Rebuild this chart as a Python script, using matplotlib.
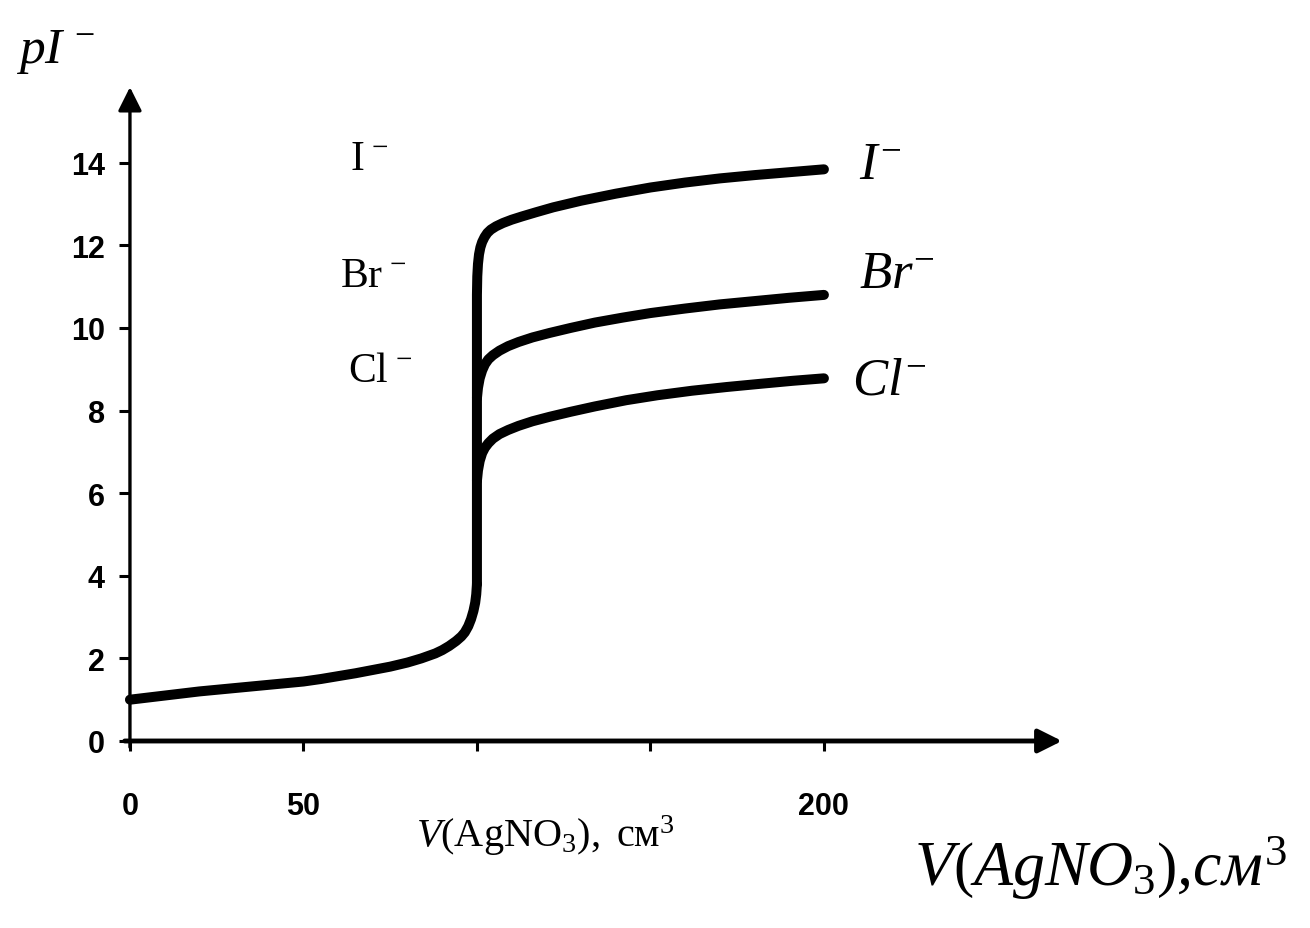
import matplotlib
matplotlib.use('Agg')
import matplotlib.pyplot as plt

# общая ветвь кривой титрования (до точки эквивалентности)
common_x = [0, 5, 10, 15, 20, 25, 30, 35, 40, 45, 50, 55, 60, 65, 70, 75, 80, 84, 88,
            90, 92, 94, 95.5, 96.5, 97.5, 98.3, 99, 99.5, 99.8, 100]
common_y = [1.0, 1.05, 1.1, 1.15, 1.2, 1.24, 1.28, 1.32, 1.36, 1.4, 1.44, 1.5, 1.57, 1.64,
            1.72, 1.8, 1.9, 2.0, 2.12, 2.2, 2.3, 2.42, 2.53, 2.63, 2.78, 2.95, 3.15, 3.35, 3.55, 3.8]

# ветви после точки эквивалентности
i_x = [100, 100, 100.1, 100.3, 100.6, 101, 101.5, 102.2, 103, 104, 105.5, 107.5, 110, 113,
       117, 122, 130, 140, 150, 160, 170, 180, 190, 200]
i_y = [3.8, 10.8, 11.25, 11.55, 11.78, 11.95, 12.08, 12.2, 12.3, 12.38, 12.46, 12.54, 12.62,
       12.7, 12.8, 12.92, 13.08, 13.25, 13.4, 13.52, 13.62, 13.7, 13.77, 13.84]

br_x = [100, 100.3, 100.8, 101.5, 102.3, 103.3, 104.6, 106.5, 109, 112, 116, 121, 127, 134,
        142, 150, 160, 170, 180, 190, 200]
br_y = [8.3, 8.55, 8.78, 8.97, 9.12, 9.24, 9.34, 9.45, 9.56, 9.66, 9.77, 9.88, 10.0, 10.13,
        10.25, 10.36, 10.47, 10.57, 10.65, 10.73, 10.8]

cl_x = [100, 100.3, 100.8, 101.5, 102.3, 103.3, 104.6, 106.5, 109, 112, 116, 121, 127, 134,
        143, 152, 162, 172, 182, 191, 200]
cl_y = [6.3, 6.55, 6.78, 6.97, 7.1, 7.21, 7.32, 7.43, 7.53, 7.63, 7.74, 7.85, 7.97, 8.1,
        8.25, 8.37, 8.48, 8.57, 8.65, 8.72, 8.78]

xticks = [0, 50, 100, 150, 200]
xticklabels = ['0', '50', '', '', '200']   # 100 и 150 закрыты подписью на оригинале
yticks = [0, 2, 4, 6, 8, 10, 12, 14]

plt.rcParams['mathtext.fontset'] = 'custom'
plt.rcParams['mathtext.rm'] = 'Liberation Serif'
plt.rcParams['mathtext.it'] = 'Liberation Serif:italic'

fig = plt.figure(figsize=(13.1, 9.29), dpi=100)
ax = fig.add_axes([0.0992, 0.2013, 0.7284, 0.7114])
ax.set_xlim(0, 275)
ax.set_ylim(0, 16)

for s in ax.spines.values():
    s.set_visible(False)

kw = dict(color='black', lw=7.2, solid_capstyle='round', solid_joinstyle='round', clip_on=False)
ax.plot(common_x, common_y, **kw)
ax.plot(i_x, i_y, **kw)
ax.plot(br_x, br_y, **kw)
ax.plot(cl_x, cl_y, **kw)

# оси со стрелками
ax.annotate('', xy=(268.6, 0), xytext=(-1.5, 0), annotation_clip=False,
            arrowprops=dict(arrowstyle='-|>', lw=3.5, color='black', mutation_scale=36,
                            shrinkA=0, shrinkB=0))
ax.annotate('', xy=(0, 15.83), xytext=(0, -0.15), annotation_clip=False,
            arrowprops=dict(arrowstyle='-|>', lw=2.4, color='black', mutation_scale=36,
                            shrinkA=0, shrinkB=0))

ax.set_xticks(xticks)
ax.set_xticklabels(xticklabels)
ax.set_yticks(yticks)
ax.tick_params(axis='x', direction='out', length=7, width=2.2, pad=29)
ax.tick_params(axis='y', direction='out', length=8, width=2.2, pad=10)
for lab in ax.get_xticklabels() + ax.get_yticklabels():
    lab.set_fontfamily('Liberation Sans')
    lab.set_fontweight('bold')
    lab.set_fontsize(22)

# подписи
fig.text(0.012, 0.945, r'$pI^{\,-}$', fontsize=37, ha='left', va='center')

ax.text(210, 14.0, r'$I^{-}$', fontsize=38, ha='left', va='center')
ax.text(210, 11.35, r'$Br^{-}$', fontsize=38, ha='left', va='center')
ax.text(208, 8.78, r'$Cl^{-}$', fontsize=38, ha='left', va='center')

ax.text(69, 14.15, r'$\mathrm{I}^{\,-}$', fontsize=30, ha='center', va='center')
ax.text(70, 11.3, r'$\mathrm{Br}^{\,-}$', fontsize=30, ha='center', va='center')
ax.text(72, 9.0, r'$\mathrm{Cl}^{\,-}$', fontsize=30, ha='center', va='center')

fig.text(0.416, 0.10, r'$\mathit{V}\mathrm{(AgNO_3),}$ см$^3$', fontsize=29,
         family='Liberation Serif', ha='center', va='center')

fig.text(0.84, 0.065, r'$V\left(AgNO_3\right)$,$\mathit{см}^3$', fontsize=46,
         family='Liberation Serif', style='italic', ha='center', va='center')

fig.savefig('out.png', dpi=100)
